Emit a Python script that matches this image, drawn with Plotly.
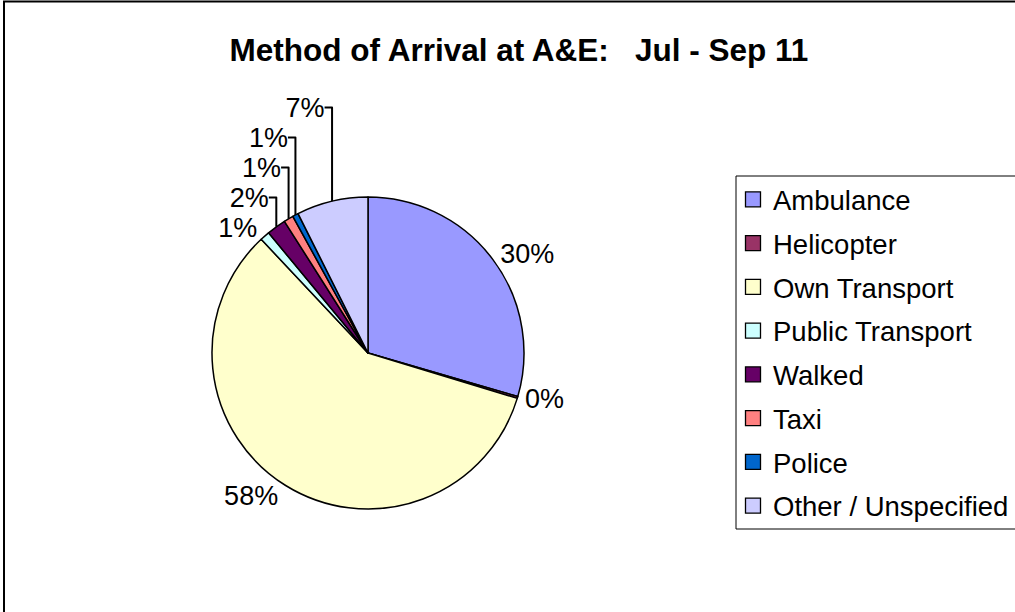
import plotly.graph_objects as go

categories = ["Ambulance", "Helicopter", "Own Transport", "Public Transport",
              "Walked", "Taxi", "Police", "Other / Unspecified"]
values = [29.5, 0.2, 58.3, 1.0, 2.0, 1.0, 0.6, 7.4]
colors = ["#9999FF", "#993366", "#FFFFCC", "#CCFFFF",
          "#660066", "#FF8080", "#0066CC", "#CCCCFF"]
title_text = "Method of Arrival at A&E:   Jul - Sep 11"

W, H = 1015, 612
FONT = "Liberation Sans, Arial, sans-serif"

fig = go.Figure()
fig.add_trace(go.Pie(
    labels=categories, values=values, sort=False, direction="clockwise",
    rotation=0,
    marker=dict(colors=colors, line=dict(color="black", width=1.5)),
    textposition="outside", texttemplate="%{percent:.0%}",
    outsidetextfont=dict(family=FONT, size=27, color="black"),
    showlegend=False,
    domain=dict(x=[(368 - 156) / W, (368 + 156) / W],
                y=[1 - 509 / H, 1 - 197 / H]),
))

for i, (c, col) in enumerate(zip(categories, colors)):
    fig.add_trace(go.Scatter(
        x=[None], y=[None], mode="markers", name=c,
        legendgroup=f"g{i}",
        marker=dict(symbol="square", size=15, color=col,
                    line=dict(color="black", width=1.3)),
    ))

# chart frame (right and bottom edges lie outside the picture)
fig.add_shape(type="rect", xref="paper", yref="paper",
              x0=4 / W, x1=1.2, y0=-0.2, y1=1 - 1.5 / H,
              line=dict(color="black", width=2), fillcolor="rgba(0,0,0,0)")
# legend box (its right edge lies outside the picture)
fig.add_shape(type="rect", xref="paper", yref="paper",
              x0=736 / W, x1=1.1, y0=1 - 529 / H, y1=1 - 176 / H,
              line=dict(color="black", width=1), fillcolor="white", layer="below")

fig.update_layout(
    width=W, height=H,
    margin=dict(l=0, r=0, t=0, b=0, autoexpand=False),
    paper_bgcolor="white", plot_bgcolor="rgba(0,0,0,0)",
    font=dict(family=FONT, size=27, color="black"),
    title=dict(text="<b>" + title_text + "</b>", x=519 / W, xanchor="center",
               xref="container", yref="container", y=1 - 50 / H,
               yanchor="middle", font=dict(family=FONT, size=31.5, color="black")),
    xaxis=dict(visible=False), yaxis=dict(visible=False),
    legend=dict(x=733 / W, xanchor="left", y=1 - 175 / H, yanchor="top",
                borderwidth=0, bgcolor="rgba(0,0,0,0)",
                traceorder="grouped", tracegroupgap=5,
                font=dict(family=FONT, size=27.5, color="black"),
                itemsizing="trace"),
)

fig.write_html("out.html", config={"displayModeBar": False},
               post_script="document.body.style.margin='0';document.body.style.overflow='hidden';")
